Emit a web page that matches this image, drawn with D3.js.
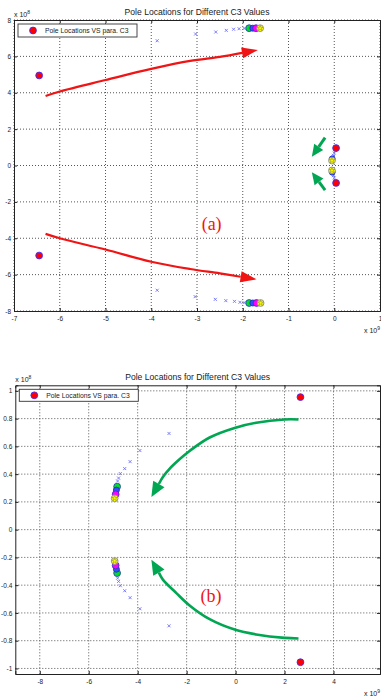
<!DOCTYPE html>
<html>
<head>
<meta charset="utf-8">
<script src="https://cdn.jsdelivr.net/npm/d3@7/dist/d3.min.js"></script>
<style>
  body { margin: 0; background: #fff; }
  svg { display: block; }
  text { font-family: "Liberation Sans", Arial, Helvetica, sans-serif; fill: #1a1a1a; }
</style>
</head>
<body>
<svg id="chart" width="381" height="696"></svg>
<script>
// values: x in units of 1e9, y in units of 1e8

// ---- panel (a) ----
const xTicksA = [-7, -6, -5, -4, -3, -2, -1, 0, 1];
const yTicksA = [-8, -6, -4, -2, 0, 2, 4, 6, 8];
const startPolesA = [[-6.45, 4.95], [-6.45, -4.95], [0.04, 0.96], [0.04, -0.96]];
const trackA = [
  [-3.87, 6.86], [-3.03, 7.23], [-2.59, 7.34], [-2.36, 7.43], [-2.2, 7.49], [-2.08, 7.52], [-1.97, 7.54],
  [-3.87, -6.86], [-3.04, -7.21], [-2.6, -7.36], [-2.37, -7.43], [-2.18, -7.47], [-2.06, -7.52], [-1.97, -7.54],
  [0.02, 0.82], [0.0, 0.68], [-0.02, 0.56], [-0.03, 0.47], [-0.04, 0.41],
  [0.02, -0.82], [0.0, -0.68], [-0.02, -0.56], [-0.03, -0.47], [-0.04, -0.41]
];
const greenA = [[-1.86, 7.55], [-1.86, -7.56]];
const blueA = [[-1.78, 7.55], [-1.78, -7.56], [-0.045, 0.36], [-0.045, -0.36]];
const magentaA = [[-1.71, 7.55], [-1.7, -7.56]];
const yellowA = [[-1.62, 7.55], [-1.61, -7.56], [-0.05, 0.27], [-0.05, -0.27]];
const redArrowsA = [
  [[-6.31, 3.82], [-6, 4.07], [-5, 4.7], [-4, 5.31], [-3.15, 5.75], [-2.5, 5.97], [-1.67, 6.35]],
  [[-6.31, -3.76], [-6, -4.0], [-5, -4.62], [-4, -5.29], [-3.15, -5.69], [-2.5, -5.93], [-1.7, -6.26]]
];
const greenArrowsA = [
  [[-0.2, 1.53], [-0.49, 0.485]],
  [[-0.2, -1.35], [-0.49, -0.37]]
];
const labelA = { text: '(a)', at: [-2.68, -3.18] };

// ---- panel (b) ----
const xTicksB = [-8, -6, -4, -2, 0, 2, 4];
const yTicksB = [-1, -0.8, -0.6, -0.4, -0.2, 0, 0.2, 0.4, 0.6, 0.8, 1];
const startPolesB = [[2.65, 0.955], [2.65, -0.955]];
const trackB = [
  [-2.72, 0.693], [-3.91, 0.57], [-4.31, 0.49], [-4.53, 0.44], [-4.71, 0.404], [-4.78, 0.372], [-4.82, 0.35],
  [-2.72, -0.693], [-3.91, -0.57], [-4.31, -0.49], [-4.53, -0.44], [-4.71, -0.404], [-4.78, -0.373], [-4.82, -0.35]
];
const greenB = [[-4.84, 0.31], [-4.84, -0.313]];
const blueB = [[-4.87, 0.285], [-4.87, -0.285]];
const magentaB = [[-4.9, 0.255], [-4.9, -0.258]];
const yellowB = [[-4.94, 0.226], [-4.94, -0.226]];
const greenArrowsB = [
  [[2.57, 0.794], [2.0, 0.794], [0.84, 0.77], [-0.04, 0.733], [-1.06, 0.664], [-1.88, 0.567], [-2.29, 0.507], [-2.69, 0.44], [-2.97, 0.38], [-3.44, 0.235]],
  [[2.57, -0.784], [2.0, -0.78], [0.84, -0.755], [-0.04, -0.72], [-1.06, -0.645], [-1.88, -0.546], [-2.42, -0.457], [-2.97, -0.36], [-3.44, -0.216]]
];
const labelB = { text: '(b)', at: [-1.0, -0.473] };

const title = 'Pole Locations for Different C3 Values';
const legendText = 'Pole Locations VS para. C3';

const svg = d3.select('#chart');

function drawArrow(g, pts, x, y, opt) {
  const p = pts.map(d => [x(d[0]), y(d[1])]);
  const tip = p[p.length - 1], prev = p[p.length - 2];
  let dx = tip[0] - prev[0], dy = tip[1] - prev[1];
  const len = Math.hypot(dx, dy);
  dx /= len; dy /= len;
  const base = [tip[0] - dx * opt.head, tip[1] - dy * opt.head];
  const shaft = p.slice(0, -1).concat([base]);
  g.append('path')
    .attr('d', d3.line().curve(d3.curveCatmullRom)(shaft))
    .attr('fill', 'none')
    .attr('stroke', opt.color)
    .attr('stroke-width', opt.width);
  const w = opt.headW / 2;
  g.append('path')
    .attr('d', 'M' + tip[0] + ',' + tip[1] +
      'L' + (base[0] - dy * w) + ',' + (base[1] + dx * w) +
      'L' + (base[0] + dy * w) + ',' + (base[1] - dx * w) + 'Z')
    .attr('fill', opt.color);
}

function circles(g, data, x, y, fill, stroke, r) {
  g.selectAll(null)
    .data(data)
    .join('circle')
    .attr('cx', d => x(d[0]))
    .attr('cy', d => y(d[1]))
    .attr('r', r)
    .attr('fill', fill)
    .attr('stroke', stroke)
    .attr('stroke-width', 0.9);
}

function drawPanel(p) {
  const x = d3.scaleLinear().domain(p.xDomain).range([p.left, p.right]);
  const y = d3.scaleLinear().domain(p.yDomain).range([p.bottom, p.top]);
  const g = svg.append('g');

  // grid
  g.selectAll(null).data(p.xTicks).join('line')
    .attr('x1', d => x(d)).attr('x2', d => x(d))
    .attr('y1', p.top).attr('y2', p.bottom)
    .attr('stroke', '#555').attr('stroke-dasharray', '1,2');
  g.selectAll(null).data(p.yTicks).join('line')
    .attr('y1', d => y(d)).attr('y2', d => y(d))
    .attr('x1', p.left).attr('x2', p.right)
    .attr('stroke', '#555').attr('stroke-dasharray', '1,2');

  // axes with inward ticks
  const fmt = d => String(d);
  g.append('g').attr('transform', 'translate(0,' + p.bottom + ')')
    .call(d3.axisBottom(x).tickValues(p.xTicks).tickSize(-3).tickPadding(5).tickFormat(fmt));
  g.append('g').attr('transform', 'translate(0,' + p.top + ')')
    .call(d3.axisTop(x).tickValues(p.xTicks).tickSize(-3).tickFormat(''));
  g.append('g').attr('transform', 'translate(' + p.left + ',0)')
    .call(d3.axisLeft(y).tickValues(p.yTicks).tickSize(-3).tickPadding(3).tickFormat(fmt));
  g.append('g').attr('transform', 'translate(' + p.right + ',0)')
    .call(d3.axisRight(y).tickValues(p.yTicks).tickSize(-3).tickFormat(''));
  g.selectAll('.domain').attr('stroke', '#222');
  g.selectAll('.tick line').attr('stroke', '#222');
  g.selectAll('.tick text').attr('font-size', 6.5).attr('font-family', '"Liberation Sans", Arial, sans-serif').attr('fill', '#1a1a1a');

  // exponent labels
  const e1 = g.append('text').attr('x', p.left).attr('y', p.top - 3).attr('font-size', 7);
  e1.append('tspan').text('x 10');
  e1.append('tspan').attr('dy', -3).attr('font-size', 5).text('8');
  const e2 = g.append('text').attr('x', p.right).attr('y', p.bottom + 22).attr('font-size', 7).attr('text-anchor', 'end');
  e2.append('tspan').text('x 10');
  e2.append('tspan').attr('dy', -3).attr('font-size', 5).text('9');

  // title
  g.append('text').attr('x', (p.left + p.right) / 2).attr('y', p.top - 5)
    .attr('text-anchor', 'middle').attr('font-size', 8.6).text(title);

  // arrows
  (p.redArrows || []).forEach(a => drawArrow(g, a, x, y, { color: '#f01414', width: 2.2, head: 16, headW: 11 }));
  (p.greenArrows || []).forEach(a => drawArrow(g, a, x, y, p.greenStyle));

  // markers
  g.selectAll(null).data(p.track).join('path')
    .attr('transform', d => 'translate(' + x(d[0]) + ',' + y(d[1]) + ')')
    .attr('d', 'M-1.5,-1.5L1.5,1.5M-1.5,1.5L1.5,-1.5')
    .attr('stroke', '#6f6fff').attr('stroke-width', 0.9).attr('fill', 'none');
  circles(g, p.startPoles, x, y, '#ff0000', '#3a2cff', 3.4);
  circles(g, p.green, x, y, '#00e020', '#2a40c0', 3.4);
  circles(g, p.blue, x, y, '#3050ff', '#2030c0', 3);
  circles(g, p.magenta, x, y, '#ff00ff', '#4030c0', 3.4);
  circles(g, p.yellow, x, y, '#ffff00', '#8a8a9a', 3.4);
  g.selectAll(null).data(p.yellow).join('path')
    .attr('transform', d => 'translate(' + x(d[0]) + ',' + y(d[1]) + ')')
    .attr('d', d3.symbol(d3.symbolStar, 10)())
    .attr('fill', 'none').attr('stroke', '#8a8a60').attr('stroke-width', 0.6);

  // panel label
  g.append('text')
    .attr('x', x(p.label.at[0])).attr('y', y(p.label.at[1])).attr('dy', '0.35em')
    .attr('text-anchor', 'middle')
    .style('font-family', '"Liberation Serif", "Times New Roman", serif')
    .attr('font-size', 18).style('fill', '#f01414')
    .text(p.label.text);

  // legend
  const lg = g.append('g').attr('transform', 'translate(' + (p.left + 4) + ',' + (p.top + 4) + ')');
  lg.append('rect').attr('width', 119).attr('height', p.legendH)
    .attr('fill', '#fff').attr('stroke', '#333').attr('stroke-width', 0.9);
  lg.append('circle').attr('cx', 15).attr('cy', p.legendH / 2).attr('r', 3.4)
    .attr('fill', '#ff0000').attr('stroke', '#3a2cff').attr('stroke-width', 0.9);
  lg.append('text').attr('x', 27).attr('y', p.legendH / 2).attr('dy', '0.35em')
    .attr('font-size', 6.8).text(legendText);
}

drawPanel({
  left: 14, right: 380, top: 20, bottom: 311, legendH: 13,
  xDomain: [-7, 1], yDomain: [-8, 8], xTicks: xTicksA, yTicks: yTicksA,
  startPoles: startPolesA, track: trackA,
  green: greenA, blue: blueA, magenta: magentaA, yellow: yellowA,
  redArrows: redArrowsA, greenArrows: greenArrowsA,
  greenStyle: { color: '#00a651', width: 3, head: 12, headW: 11 },
  label: labelA
});

drawPanel({
  left: 15.3, right: 380, top: 385.3, bottom: 674, legendH: 12,
  xDomain: [-9, 5.9], yDomain: [-1.04, 1.04], xTicks: xTicksB, yTicks: yTicksB,
  startPoles: startPolesB, track: trackB,
  green: greenB, blue: blueB, magenta: magentaB, yellow: yellowB,
  redArrows: [], greenArrows: greenArrowsB,
  greenStyle: { color: '#00a651', width: 2.6, head: 15, headW: 13 },
  label: labelB
});
</script>
</body>
</html>
